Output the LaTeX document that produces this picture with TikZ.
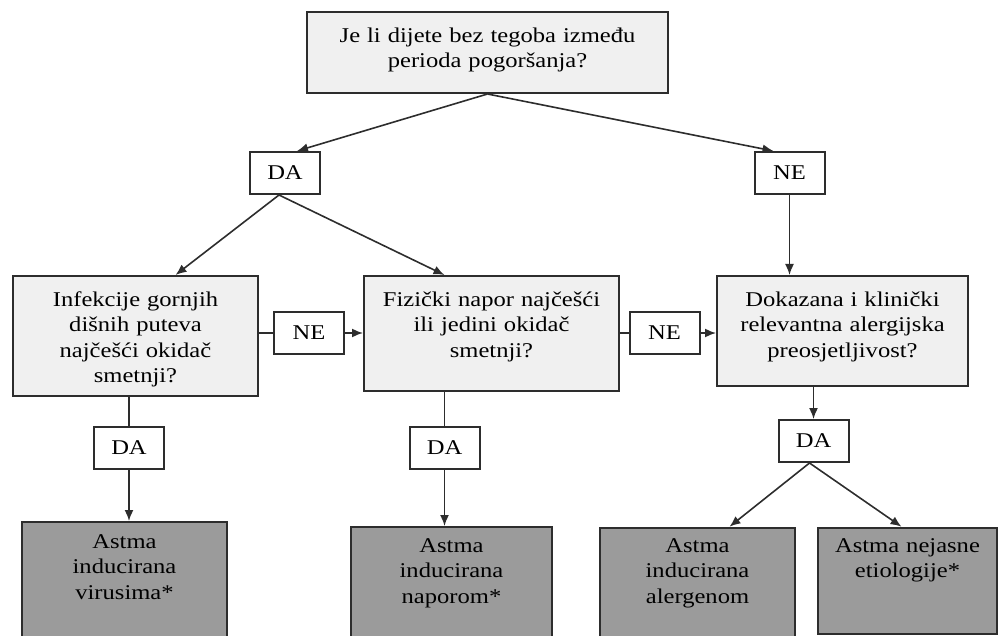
\documentclass[tikz,border=0pt]{standalone}
\usepackage{fontspec}
\setmainfont{Liberation Serif}[FakeStretch=1.17]
\usepackage{xcolor}
\usetikzlibrary{arrows.meta}
\definecolor{linegray}{RGB}{45,45,45}
\definecolor{boxlight}{RGB}{240,240,240}
\definecolor{boxdark}{RGB}{155,155,155}
\tikzset{
	pitbox/.style={draw=linegray, line width=2pt, fill=boxlight, align=center, inner xsep=4pt, inner ysep=0pt, anchor=north},
	ishbox/.style={pitbox, fill=boxdark},
	odgovor/.style={draw=linegray, line width=2pt, fill=white, minimum width=70pt, minimum height=42pt, inner sep=0pt},
	veza/.style={draw=linegray, line width=1.6pt},
	strel/.style={veza, -{Latex[length=11pt,width=9pt]}}
}
\begin{document}
\begin{tikzpicture}[x=1pt,y=-1pt,font=\fontsize{21}{25.5}\selectfont]
	\useasboundingbox (0,0) rectangle (998,636);
	
	% pitanja
	\node[pitbox, text width=353pt, text height=30.5pt, text depth=50.5pt] (pitanje) at (487.5,11) {Je li dijete bez tegoba između\\perioda pogoršanja?};
	\node[pitbox, text width=237pt, text height=30pt, text depth=90pt] (infekcija) at (135.5,275) {Infekcije gornjih\\dišnih puteva\\najčešći okidač\\smetnji?};
	\node[pitbox, text width=247pt, text height=30pt, text depth=85pt] (napor) at (491.5,275) {Fizički napor najčešći\\ili jedini okidač\\smetnji?};
	\node[pitbox, text width=243pt, text height=30pt, text depth=80pt] (alergija) at (842.5,275) {Dokazana i klinički\\relevantna alergijska\\preosjetljivost?};
	
	% ishodi
	\node[ishbox, text width=197pt, text height=26pt, text depth=91pt] (virusi) at (124.5,521) {Astma\\inducirana\\virusima*};
	\node[ishbox, text width=193pt, text height=25pt, text depth=87pt] (naporom) at (451.5,526) {Astma\\inducirana\\naporom*};
	\node[ishbox, text width=187pt, text height=24.5pt, text depth=87pt] (alergen) at (697.5,526.7) {Astma\\inducirana\\alergenom};
	\node[ishbox, text width=171pt, text height=24.5pt, text depth=81.5pt] (nejasna) at (907.5,526.7) {Astma nejasne\\etiologije*};
	
	% DA / NE
	\foreach \ime/\tekst/\x/\y in
	{da0/DA/285/173, ne0/NE/789.5/173, ne1/NE/309/333, ne2/NE/664.5/333, da1/DA/129/447.5, da2/DA/444.5/447.5, da3/DA/813.5/441}{
		\node[odgovor] (\ime) at (\x,\y) {\tekst};
	}
	
	\draw[strel] (pitanje.south) -- ([xshift=12pt]da0.north);
	\draw[strel] (pitanje.south) -- ([xshift=-16pt]ne0.north);
	\draw[strel] ([xshift=-6pt]da0.south) -- ([xshift=40pt]infekcija.north);
	\draw[strel] ([xshift=-6pt]da0.south) -- ([xshift=-47pt]napor.north);
	\draw[strel] (ne0.south) -- (ne0.south |- alergija.north);
	
	\draw[veza] (ne1.west -| infekcija.east) -- (ne1.west);
	\draw[strel] (ne1.east) -- (ne1.east -| napor.west);
	\draw[veza] (ne2.west -| napor.east) -- (ne2.west);
	\draw[strel] (ne2.east) -- (ne2.east -| alergija.west);
	
	\draw[veza] (da1.north |- infekcija.south) -- (da1.north);
	\draw[strel] (da1.south) -- (da1.south |- virusi.north);
	\draw[veza] (da2.north |- napor.south) -- (da2.north);
	\draw[strel] (da2.south) -- (da2.south |- naporom.north);
	\draw[strel] (da3.north |- alergija.south) -- (da3.north);
	\draw[strel] ([xshift=-4pt]da3.south) -- ([xshift=32pt]alergen.north);
	\draw[strel] ([xshift=-4pt]da3.south) -- ([xshift=-6pt]nejasna.north);
\end{tikzpicture}
\end{document}
